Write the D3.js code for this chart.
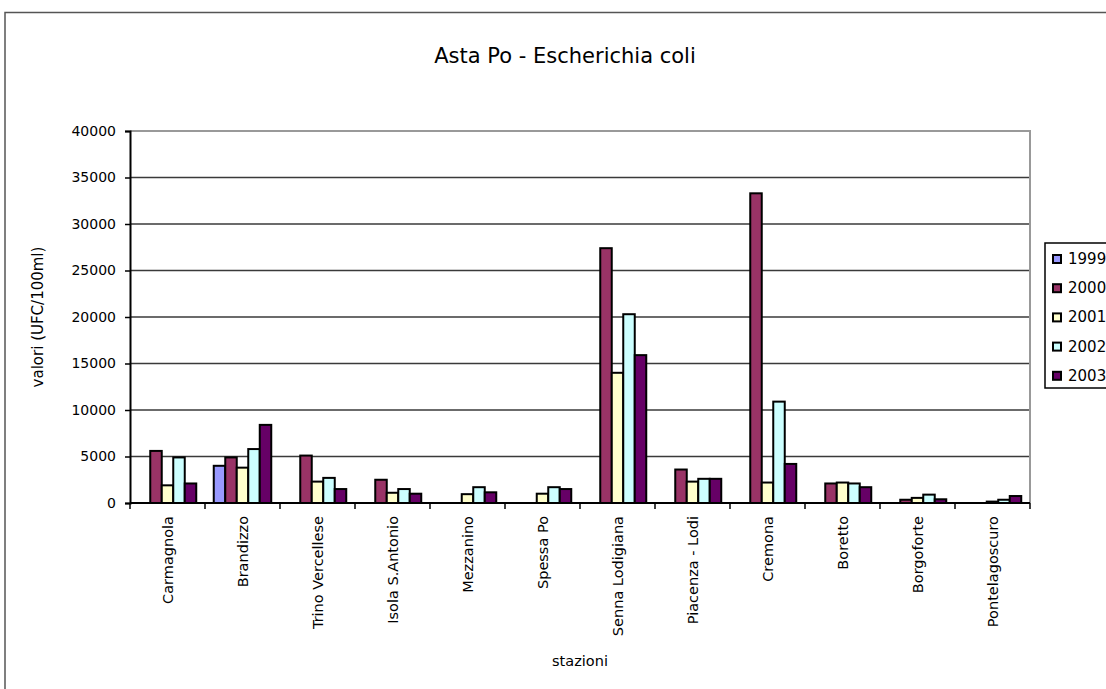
<!DOCTYPE html>
<html>
<head>
<meta charset="utf-8">
<script src="https://cdn.jsdelivr.net/npm/d3@7"></script>
<style>
  html, body { margin: 0; padding: 0; background: #fff; }
  svg { display: block; }
  text { font-family: "DejaVu Sans", Verdana, sans-serif; fill: #000; }
</style>
</head>
<body>
<svg id="chart" width="1106" height="689"></svg>
<script>
// Stations along the Po river
const categories = ["Carmagnola", "Brandizzo", "Trino Vercellese", "Isola S.Antonio",
  "Mezzanino", "Spessa Po", "Senna Lodigiana", "Piacenza - Lodi", "Cremona",
  "Boretto", "Borgoforte", "Pontelagoscuro"];

const years = ["1999", "2000", "2001", "2002", "2003"];

// Escherichia coli (UFC/100ml) per year; null = no measurement
const values1999 = [null, 4000, null, null, null, null, null, null, null, null, null, null];
const values2000 = [5600, 4900, 5100, 2500, null, null, 27400, 3600, 33300, 2100, 350, null];
const values2001 = [1900, 3800, 2300, 1100, 950, 1000, 14000, 2300, 2200, 2200, 550, 150];
const values2002 = [4900, 5800, 2700, 1500, 1700, 1700, 20300, 2600, 10900, 2100, 900, 350];
const values2003 = [2100, 8400, 1500, 1000, 1150, 1500, 15900, 2600, 4200, 1700, 400, 750];

const yTicks = [0, 5000, 10000, 15000, 20000, 25000, 30000, 35000, 40000];

const colors = ["#9999ff", "#993366", "#ffffcc", "#ccffff", "#660066"];
const series = [values1999, values2000, values2001, values2002, values2003];

const svg = d3.select("#chart");

// Outer chart frame (runs past the right and bottom window edges)
svg.append("rect")
  .attr("x", 5).attr("y", 12.5)
  .attr("width", 1200).attr("height", 800)
  .attr("fill", "#fff").attr("stroke", "#555").attr("stroke-width", 1.5);

const plot = { left: 130, right: 1030, top: 131, bottom: 503 };

const x = d3.scaleBand().domain(categories).range([plot.left, plot.right]).padding(0);
const bw = x.bandwidth();
const inner = d3.scaleBand().domain(years)
  .range([bw * 8.75 / 75, bw * 66.25 / 75]).padding(0);
const y = d3.scaleLinear().domain([0, 40000]).range([plot.bottom, plot.top]);

// Gridlines
svg.append("g").selectAll("line")
  .data(yTicks.filter(d => d > 0 && d < 40000))
  .join("line")
  .attr("x1", plot.left).attr("x2", plot.right)
  .attr("y1", d => y(d)).attr("y2", d => y(d))
  .attr("stroke", "#3a3a3a").attr("stroke-width", 1.5);

// Plot area border (top and right)
svg.append("path")
  .attr("d", `M${plot.left},${plot.top}H${plot.right}V${plot.bottom}`)
  .attr("fill", "none").attr("stroke", "#999").attr("stroke-width", 2);

// Bars
const rows = [];
series.forEach((vals, si) => {
  vals.forEach((v, ci) => {
    if (v != null) rows.push({ year: years[si], cat: categories[ci], value: v, color: colors[si] });
  });
});

svg.append("g").selectAll("rect")
  .data(rows)
  .join("rect")
  .attr("x", d => x(d.cat) + inner(d.year))
  .attr("y", d => y(d.value))
  .attr("width", inner.bandwidth())
  .attr("height", d => y(0) - y(d.value))
  .attr("fill", d => d.color)
  .attr("stroke", "#000").attr("stroke-width", 2);

// Y axis
const yAxis = d3.axisLeft(y).tickValues(yTicks).tickSize(5).tickPadding(9)
  .tickFormat(d3.format("d"));
const gy = svg.append("g").attr("transform", `translate(${plot.left},0)`).call(yAxis);
gy.select(".domain").attr("stroke", "#000").attr("stroke-width", 2);
gy.selectAll(".tick line").attr("stroke", "#000").attr("stroke-width", 1.5);
gy.selectAll(".tick text").attr("font-size", 14)
  .attr("font-family", "'DejaVu Sans', Verdana, sans-serif").attr("fill", "#111");

// X axis: baseline and category boundary ticks
svg.append("line")
  .attr("x1", plot.left).attr("x2", plot.right)
  .attr("y1", plot.bottom).attr("y2", plot.bottom)
  .attr("stroke", "#000").attr("stroke-width", 2);
const boundaries = categories.map(c => x(c)).concat([plot.right]);
svg.append("g").selectAll("line")
  .data(boundaries)
  .join("line")
  .attr("x1", d => d).attr("x2", d => d)
  .attr("y1", plot.bottom).attr("y2", plot.bottom + 6)
  .attr("stroke", "#000").attr("stroke-width", 1.5);

// Category labels, rotated
svg.append("g").selectAll("text")
  .data(categories)
  .join("text")
  .attr("transform", d => `translate(${x(d) + bw / 2},${plot.bottom + 13}) rotate(-90)`)
  .attr("text-anchor", "end")
  .attr("dominant-baseline", "central")
  .attr("font-size", 14.5)
  .text(d => d);

// Titles
svg.append("text")
  .attr("x", 565).attr("y", 63)
  .attr("text-anchor", "middle")
  .attr("font-size", 21)
  .text("Asta Po - Escherichia coli");

svg.append("text")
  .attr("transform", `translate(38,${(plot.top + plot.bottom) / 2}) rotate(-90)`)
  .attr("text-anchor", "middle")
  .attr("dominant-baseline", "central")
  .attr("font-size", 15)
  .text("valori (UFC/100ml)");

svg.append("text")
  .attr("x", 580).attr("y", 666)
  .attr("text-anchor", "middle")
  .attr("font-size", 14.5)
  .text("stazioni");

// Legend
const legend = svg.append("g");
legend.append("rect")
  .attr("x", 1045).attr("y", 243).attr("width", 100).attr("height", 145)
  .attr("fill", "#fff").attr("stroke", "#000").attr("stroke-width", 1.5);
const items = legend.selectAll("g.item")
  .data(years)
  .join("g")
  .attr("class", "item")
  .attr("transform", (d, i) => `translate(1053,${259 + i * 29.2})`);
items.append("rect")
  .attr("x", 0).attr("y", -4).attr("width", 8).attr("height", 8)
  .attr("fill", (d, i) => colors[i])
  .attr("stroke", "#000").attr("stroke-width", 2);
items.append("text")
  .attr("x", 15).attr("y", 0)
  .attr("dominant-baseline", "central")
  .attr("font-size", 15)
  .text(d => d);
</script>
</body>
</html>
